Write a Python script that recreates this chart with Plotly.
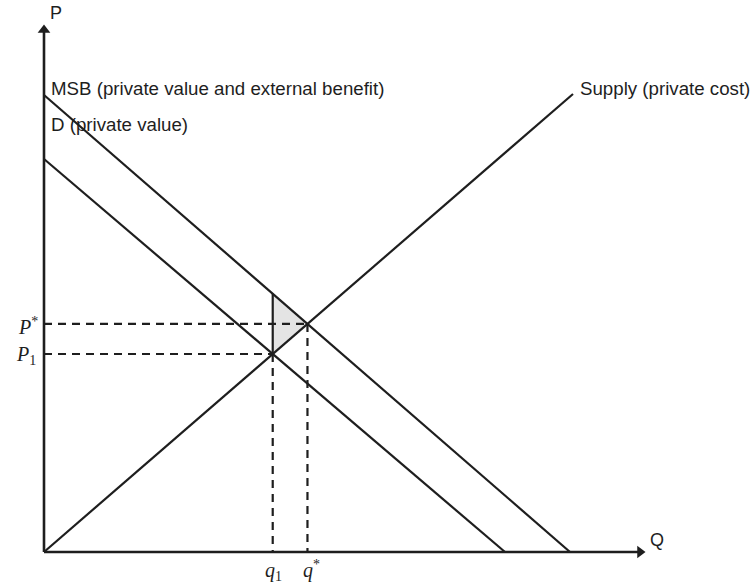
import plotly.graph_objects as go

# Curve endpoints (Q, P) in chart units
supply_q = [0, 529]
supply_p = [0, 458]
demand_q = [0, 461]
demand_p = [393, 0]
msb_q = [0, 526]
msb_p = [457, 0]

axis_q_max = 601
axis_p_max = 527

curve_labels = ["MSB (private value and external benefit)", "D (private value)", "Supply (private cost)"]

INK = "#1e1e1e"


def line_coef(qs, ps):
    slope = (ps[1] - ps[0]) / (qs[1] - qs[0])
    return slope, ps[0] - slope * qs[0]


def intersect(a, b):
    (m1, c1), (m2, c2) = a, b
    q = (c2 - c1) / (m1 - m2)
    return q, m1 * q + c1


S = line_coef(supply_q, supply_p)
D = line_coef(demand_q, demand_p)
M = line_coef(msb_q, msb_p)

q1, p1 = intersect(S, D)
qs, ps = intersect(S, M)
p_msb_q1 = M[0] * q1 + M[1]

fig = go.Figure()

# Welfare-loss triangle
fig.add_trace(go.Scatter(
    x=[q1, q1, qs, q1], y=[p1, p_msb_q1, ps, p1],
    fill="toself", fillcolor="#e4e4e4", mode="lines",
    line=dict(color="rgba(0,0,0,0)", width=0), hoverinfo="skip"))

dash = "8px,6px"
for xs, ys in [([0, qs], [ps, ps]), ([0, q1], [p1, p1]),
               ([q1, q1], [p1, 0]), ([qs, qs], [ps, 0])]:
    fig.add_trace(go.Scatter(x=xs, y=ys, mode="lines",
                             line=dict(color=INK, width=2.2, dash=dash), hoverinfo="skip"))

for xs, ys in [(supply_q, supply_p), (demand_q, demand_p), (msb_q, msb_p),
               ([q1, q1], [p1, p_msb_q1])]:
    fig.add_trace(go.Scatter(x=xs, y=ys, mode="lines",
                             line=dict(color=INK, width=2.2), hoverinfo="skip"))

# Axes: shafts plus triangular arrowheads
fig.add_trace(go.Scatter(x=[0, 0], y=[0, axis_p_max - 6], mode="lines",
                         line=dict(color=INK, width=2.6), hoverinfo="skip"))
fig.add_trace(go.Scatter(x=[0, axis_q_max - 6], y=[0, 0], mode="lines",
                         line=dict(color=INK, width=2.6), hoverinfo="skip"))
fig.add_trace(go.Scatter(x=[0], y=[axis_p_max - 5], mode="markers",
                         marker=dict(symbol="triangle-up", size=11, color=INK,
                                     line=dict(width=0)), hoverinfo="skip"))
fig.add_trace(go.Scatter(x=[axis_q_max - 5], y=[0], mode="markers",
                         marker=dict(symbol="triangle-right", size=11, color=INK,
                                     line=dict(width=0)), hoverinfo="skip"))

sans = dict(family="Liberation Sans, Arial, sans-serif", size=18.7, color=INK)
serif = dict(family="Liberation Serif, DejaVu Serif, serif", size=20, color=INK)

fig.add_annotation(x=5, y=msb_p[0] + 7, text=curve_labels[0], showarrow=False,
                   xanchor="left", yanchor="middle", font=sans)
fig.add_annotation(x=5, y=demand_p[0] + 35, text=curve_labels[1], showarrow=False,
                   xanchor="left", yanchor="middle", font=sans)
fig.add_annotation(x=supply_q[1] + 5, y=supply_p[1] + 6, text=curve_labels[2], showarrow=False,
                   xanchor="left", yanchor="middle", font=sans)
fig.add_annotation(x=12, y=axis_p_max + 12, text="P", showarrow=False,
                   xanchor="center", yanchor="middle", font=dict(sans, size=18))
fig.add_annotation(x=axis_q_max + 12, y=12, text="Q", showarrow=False,
                   xanchor="center", yanchor="middle", font=dict(sans, size=18))

fig.add_annotation(x=-4, y=ps - 2, text="<i>P</i><sup>*</sup>", showarrow=False,
                   xanchor="right", yanchor="middle", font=serif)
fig.add_annotation(x=-6, y=p1 - 2, text="<i>P</i><sub>1</sub>", showarrow=False,
                   xanchor="right", yanchor="middle", font=serif)
fig.add_annotation(x=q1 + 1, y=-19, text="<i>q</i><sub>1</sub>", showarrow=False,
                   xanchor="center", yanchor="middle", font=serif)
fig.add_annotation(x=qs + 4, y=-17, text="<i>q</i><sup>*</sup>", showarrow=False,
                   xanchor="center", yanchor="middle", font=serif)

fig.update_layout(
    width=752, height=583, margin=dict(l=0, r=0, t=0, b=0),
    paper_bgcolor="white", plot_bgcolor="white", showlegend=False,
    xaxis=dict(range=[-44, 708], visible=False, fixedrange=True),
    yaxis=dict(range=[-31, 552], visible=False, fixedrange=True),
)

fig.write_html("out.html")
